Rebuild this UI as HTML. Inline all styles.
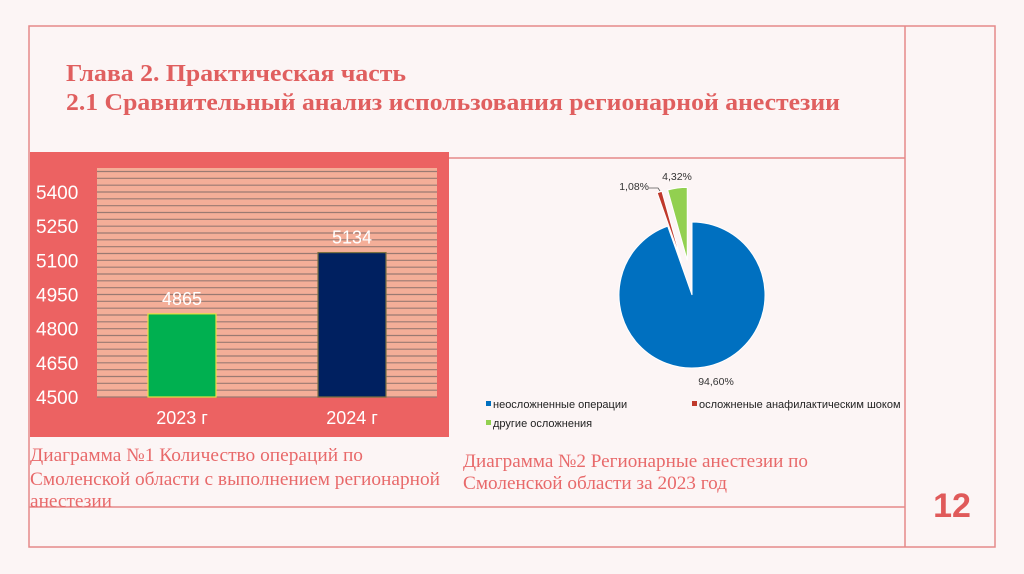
<!DOCTYPE html>
<html><head><meta charset="utf-8"><style>
html,body{margin:0;padding:0;background:#fcf5f5;}
svg{display:block;font-family:"Liberation Sans","Noto Sans CJK SC",sans-serif;}
.serif{font-family:"Liberation Serif","Noto Serif CJK SC",serif;}
</style></head><body>
<svg id="s" width="1024" height="574" viewBox="0 0 1024 574" xmlns="http://www.w3.org/2000/svg">
<rect x="0" y="0" width="1024" height="574" fill="#fcf5f5"/>
<g stroke="#e58a8a" stroke-width="1.5" fill="none">
<rect x="29" y="26" width="966" height="521"/>
<line x1="905" y1="26" x2="905" y2="547"/>
<line x1="449" y1="158" x2="905" y2="158"/>
<line x1="29" y1="507" x2="905" y2="507"/>
</g>
<g class="serif" fill="#e05f5f" font-weight="bold" font-size="24">
<text x="66" y="81" textLength="340" lengthAdjust="spacingAndGlyphs">Глава 2. Практическая часть</text>
<text x="66" y="110" textLength="774" lengthAdjust="spacingAndGlyphs">2.1 Сравнительный анализ использования регионарной анестезии</text>
</g>
<rect x="30" y="152" width="419" height="285" fill="#ec6262"/>
<rect x="97" y="168" width="340" height="229" fill="#f4ae98"/>
<g id="bars"></g>
<g class="serif" fill="#e8696a" font-size="19">
<text x="30" y="461" textLength="333" lengthAdjust="spacingAndGlyphs">Диаграмма №1 Количество операций по</text>
<text x="30" y="485" textLength="410" lengthAdjust="spacingAndGlyphs">Смоленской области с выполнением регионарной</text>
<text x="30" y="507" textLength="82" lengthAdjust="spacingAndGlyphs">анестезии</text>
</g>
<g class="serif" fill="#e8696a" font-size="19">
<text x="463" y="467" textLength="345" lengthAdjust="spacingAndGlyphs">Диаграмма №2 Регионарные анестезии по</text>
<text x="463" y="489" textLength="264" lengthAdjust="spacingAndGlyphs">Смоленской области за 2023 год</text>
</g>
<text x="952" y="517" text-anchor="middle" font-size="34" font-weight="bold" fill="#e05a5a">12</text>
<g id="pie"></g>
</svg>
<script>
const categories = ["2023 г", "2024 г"];
const barValues = [4865, 5134];
const yTicks = [4500, 4650, 4800, 4950, 5100, 5250, 5400];
const pieLabels = ["неосложненные операции", "осложненые анафилактическим шоком", "другие осложнения"];
const pieValues = [94.60, 1.08, 4.32];
const pieText = ["94,60%", "1,08%", "4,32%"];

const NS = "http://www.w3.org/2000/svg";
function mk(tag, attrs, parent, text){const e=document.createElementNS(NS,tag);for(const k in attrs)e.setAttribute(k,attrs[k]);if(text!==undefined)e.textContent=text;parent.appendChild(e);return e;}

// bar chart
const bars = document.getElementById('bars');
const plotL=97, plotR=437, plotB=397;
const y = v => plotB - (v-4500)*(397-192)/900;
for(let v=4500; y(v)>=168; v+=30){
  const g = mk('line',{x1:plotL,x2:plotR,y1:y(v),y2:y(v),stroke:'#9a7a72','stroke-width':1.2},bars);
  
  
}
yTicks.forEach(t=>{
  const e = mk('text',{x:36,y:y(t)+7,'font-size':19,fill:'#fff'},bars,String(t));
  
  
});
const band=(plotR-plotL)/categories.length;
const colors=['#00b050','#002060'], strokes=['#e8e040','#7a7040'];
categories.forEach((c,i)=>{
  const cx=plotL+band*(i+0.5), w=68;
  const r = mk('rect',{x:cx-w/2,y:y(barValues[i]),width:w,height:plotB-y(barValues[i]),fill:colors[i],stroke:strokes[i],'stroke-width':1.2},bars);
  
  
  const v = mk('text',{x:cx,y:y(barValues[i])-9,'text-anchor':'middle','font-size':18,fill:'#fff'},bars,String(barValues[i]));
  
  
  const l = mk('text',{x:cx,y:424,'text-anchor':'middle','font-size':18,fill:'#fff'},bars,c);
  
  
});

// pie chart
const pie = document.getElementById('pie');
const pcx=692, pcy=295, R=73, off=35;
const pieColors=['#0070c0','#c0392b','#92d050'];
const total=pieValues.reduce((a,b)=>a+b,0);
let start=0;
const pt=(a,r,ox,oy)=>[ox+r*Math.sin(a), oy-r*Math.cos(a)];
pieValues.forEach((v,i)=>{
  const sweep=v/total*2*Math.PI, a0=start, a1=start+sweep;
  const mid=(a0+a1)/2;
  const o = i===0?0:off;
  const ox=pcx+o*Math.sin(mid), oy=pcy-o*Math.cos(mid);
  const p0=pt(a0,R,ox,oy), p1=pt(a1,R,ox,oy);
  const large=sweep>Math.PI?1:0;
  const s = mk('path',{d:`M${ox},${oy} L${p0[0]},${p0[1]} A${R},${R} 0 ${large} 1 ${p1[0]},${p1[1]} Z`,fill:pieColors[i],stroke:'#fff','stroke-width':1},pie);
  
  
  start=a1;
});
const lbl=[[716,385,'middle'],[649,190,'end'],[677,180,'middle']];
pieText.forEach((t,i)=>{
  const e = mk('text',{x:lbl[i][0],y:lbl[i][1],'text-anchor':lbl[i][2],'font-size':10.5,fill:'#333'},pie,t);
  
  
});
const lead = mk('polyline',{points:'649,188 658,188 660,191',fill:'none',stroke:'#555','stroke-width':0.8},pie);


const legPos=[[486,408],[692,408],[486,427]];
pieLabels.forEach((t,i)=>{
  const g = mk('g',{},pie);
  
  
  mk('rect',{x:legPos[i][0],y:legPos[i][1]-7,width:5,height:5,fill:pieColors[i]},g);
  mk('text',{x:legPos[i][0]+7,y:legPos[i][1],'font-size':11,fill:'#222'},g,t);
});
</script>
</body></html>
